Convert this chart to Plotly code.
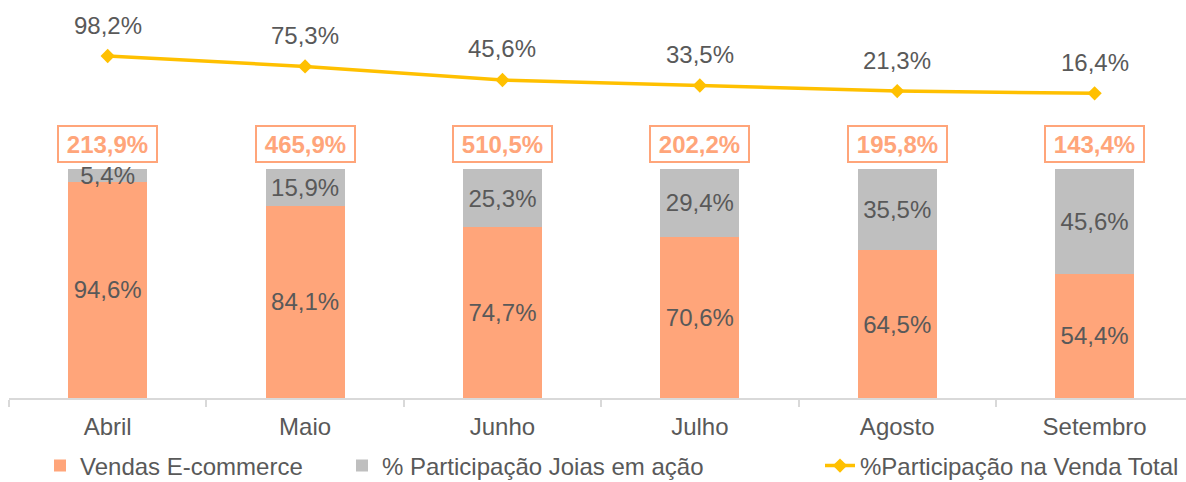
import plotly.graph_objects as go

months = ["Abril", "Maio", "Junho", "Julho", "Agosto", "Setembro"]
ecommerce = [94.6, 84.1, 74.7, 70.6, 64.5, 54.4]
joias = [5.4, 15.9, 25.3, 29.4, 35.5, 45.6]
participacao_total = [98.2, 75.3, 45.6, 33.5, 21.3, 16.4]
crescimento = [213.9, 465.9, 510.5, 202.2, 195.8, 143.4]

ORANGE = "#FFA57A"
GRAY = "#BFBFBF"
GOLD = "#FFC000"
TXT = "#595959"
FONT = "Arial, Liberation Sans, sans-serif"


def pt(v):
    return f"{v:.1f}".replace(".", ",") + "%"


fig = go.Figure()
fig.add_trace(go.Bar(
    x=months, y=ecommerce, name="Vendas E-commerce",
    marker=dict(color=ORANGE, line=dict(width=0)),
    text=[pt(v) for v in ecommerce], textposition="inside",
    insidetextanchor="middle", textangle=0, constraintext="none",
    textfont=dict(size=24, color=TXT, family=FONT),
    width=0.4, legend="legend",
))
fig.add_trace(go.Bar(
    x=months, y=joias, name="% Participação Joias em ação",
    marker=dict(color=GRAY, line=dict(width=0)),
    text=[pt(v) for v in joias], textposition="inside",
    insidetextanchor="middle", textangle=0, constraintext="none",
    textfont=dict(size=24, color=TXT, family=FONT),
    width=0.4, legend="legend2",
))
fig.add_trace(go.Scatter(
    x=months, y=participacao_total, name="%Participação na Venda Total",
    mode="lines+markers", yaxis="y2",
    line=dict(color=GOLD, width=3.5),
    marker=dict(symbol="diamond", size=11, color=GOLD),
    legend="legend3",
))

annotations = []
for m, v in zip(months, participacao_total):
    annotations.append(dict(
        x=m, y=v, xref="x", yref="y2", text=pt(v), showarrow=False,
        yshift=31, yanchor="middle",
        font=dict(size=24, color=TXT, family=FONT),
    ))
for m, e, j, g in zip(months, ecommerce, joias, crescimento):
    annotations.append(dict(
        x=m, y=e + j, xref="x", yref="y", text="<b>" + pt(g) + "</b>",
        showarrow=False, yshift=25.6, yanchor="middle",
        font=dict(size=24, color=ORANGE, family=FONT),
        bordercolor=ORANGE, borderwidth=2, borderpad=0,
        width=97, height=34, bgcolor="white",
    ))


def leg(xpx):
    return dict(
        orientation="h", xref="container", yref="container",
        x=xpx / 1186, xanchor="left", y=16 / 482, yanchor="middle",
        font=dict(size=24, color=TXT, family=FONT),
        bgcolor="rgba(0,0,0,0)",
    )


fig.update_layout(
    width=1186, height=482,
    margin=dict(l=9, r=0, t=0, b=84),
    barmode="stack", bargap=0.6,
    plot_bgcolor="white", paper_bgcolor="white",
    font=dict(family=FONT, size=24, color=TXT),
    xaxis=dict(
        type="category", range=[-0.5, 5.463],
        showline=True, linecolor="#D9D9D9", linewidth=2,
        ticks="outside", tickson="boundaries", ticklen=7, tickcolor="#D9D9D9",
        tickwidth=1.5, ticklabelstandoff=6,
        tickfont=dict(size=24, color=TXT, family=FONT),
        showgrid=False, zeroline=False,
    ),
    yaxis=dict(range=[0, 174], visible=False, showgrid=False, zeroline=False),
    yaxis2=dict(range=[-651.8, 221.0], overlaying="y", visible=False,
                showgrid=False, zeroline=False),
    showlegend=True,
    legend=leg(40),
    legend2=leg(342),
    legend3=leg(820),
    annotations=annotations,
)

fig.write_html("out.html", config={"displayModeBar": False},
               post_script="document.body.style.margin='0';")
